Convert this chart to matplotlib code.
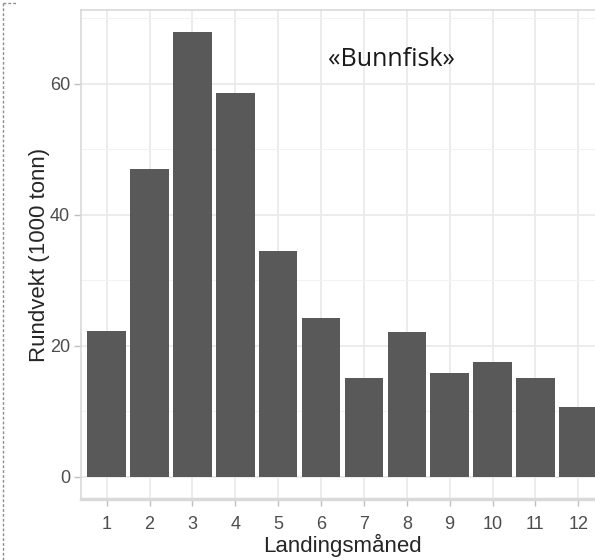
import matplotlib.pyplot as plt
from matplotlib.lines import Line2D
import numpy as np

months = [1, 2, 3, 4, 5, 6, 7, 8, 9, 10, 11, 12]
weight = [22.3, 47.0, 67.9, 58.6, 34.5, 24.3, 15.1, 22.1, 15.9, 17.6, 15.1, 10.7]
y_ticks = [0, 20, 40, 60]
label_text = "«Bunnfisk»"


def main():
    fig = plt.figure(figsize=(5.95, 5.6), dpi=100)
    ax = fig.add_axes([81 / 595, 61 / 560, 523 / 595, 489 / 560])

    ax.bar(months, weight, width=0.9, color='#595959', zorder=3)

    ax.set_xlim(0.4, 12.6)
    ymax = max(weight)
    ax.set_ylim(-0.05 * ymax, 1.05 * ymax)

    # ggplot style grid
    ax.set_yticks(y_ticks)
    ax.set_yticks([10, 30, 50, 70], minor=True)
    ax.set_xticks(months)
    ax.grid(which='major', color='#EBEBEB', linewidth=1.3, zorder=0)
    ax.grid(which='minor', axis='y', color='#F2F2F2', linewidth=0.8, zorder=0)
    ax.set_axisbelow(True)

    for s in ax.spines.values():
        s.set_color('#D9D9D9')
        s.set_linewidth(1.2)
    ax.spines['bottom'].set_linewidth(2.5)

    ax.tick_params(which='major', length=5, color='#BFBFBF', width=1,
                   labelsize=13, labelcolor='#4D4D4D', pad=3)
    ax.tick_params(which='minor', length=0)
    ax.tick_params(axis='x', pad=7)
    for lbl in ax.get_xticklabels() + ax.get_yticklabels():
        lbl.set_family('Liberation Sans')

    ax.set_xlabel('Landingsmåned', fontsize=16, family='Liberation Sans',
                  color='#262626', labelpad=1)
    ax.set_ylabel('Rundvekt (1000 tonn)', fontsize=16, family='Liberation Sans',
                  color='#262626', labelpad=0)

    ax.text(7.64, 63.7, label_text, ha='center', va='center', fontsize=18,
            family='Open Sans', color='#1A1A1A')

    # dashed frame on the left
    fig.add_artist(Line2D([3 / 595, 3 / 595], [0, 1 - 3 / 560],
                          color='#8C8C8C', linestyle=(0, (2, 1.5)), linewidth=1))
    fig.add_artist(Line2D([3 / 595, 16 / 595], [1 - 3 / 560, 1 - 3 / 560],
                          color='#8C8C8C', linestyle=(0, (2, 1.5)), linewidth=1))

    fig.savefig('out.png', dpi=100)


if __name__ == "__main__":
    main()
